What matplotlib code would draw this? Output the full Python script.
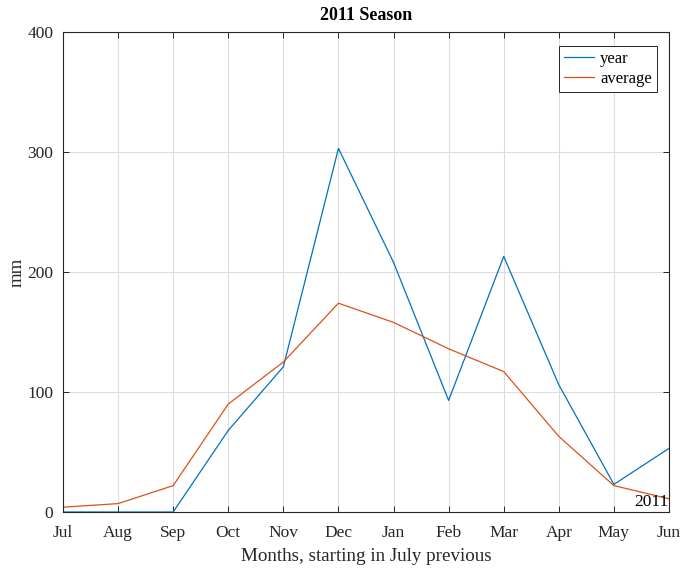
import matplotlib
matplotlib.use("Agg")
import matplotlib.pyplot as plt

months = ["Jul", "Aug", "Sep", "Oct", "Nov", "Dec", "Jan", "Feb", "Mar", "Apr", "May", "Jun"]
year_vals = [0, 0, 0, 68, 121, 303, 208, 93, 213, 106, 23, 53]
avg_vals = [4, 7, 22, 90, 125, 174, 158, 136, 117, 63, 22, 11]
yticks = [0, 100, 200, 300, 400]

plt.rcParams['font.family'] = ['Liberation Serif', 'DejaVu Serif']

fig = plt.figure(figsize=(6.83, 5.73), dpi=100)
ax = fig.add_axes([63/683, 1-512/573, (669-63)/683, (512-32)/573])

x = list(range(len(months)))
ax.plot(x, year_vals, color=(0, 0.447, 0.741), lw=0.9, label="year")
ax.plot(x, avg_vals, color=(0.85, 0.325, 0.098), lw=0.9, label="average")

ax.set_xlim(0, len(months)-1)
ax.set_ylim(0, 400)
ax.set_xticks(x)
ax.set_xticklabels(months, fontsize=12.5)
ax.set_yticks(yticks)
ax.set_yticklabels([str(v) for v in yticks], fontsize=12.5)
ax.tick_params(direction='in', top=True, right=True, length=4, width=0.7, colors='#262626', labelcolor='#262626')
ax.tick_params(axis='x', pad=9.5)
ax.tick_params(axis='y', pad=7)
ax.grid(True, color='#dcdcdc', lw=0.8)
ax.set_axisbelow(True)
for s in ax.spines.values():
    s.set_color('#262626')
    s.set_linewidth(0.8)

ax.set_xlabel("Months, starting in July previous", fontsize=13.7, color='#262626', labelpad=5)
ax.set_ylabel("mm", fontsize=13.5, color='#262626', labelpad=1)
ax.set_title("2011 Season", fontsize=13, fontweight='bold', color='#000000', pad=9)

ax.text(0.999, 0.004, "2011", transform=ax.transAxes, ha='right', va='bottom', fontsize=12.5, color='#000000')

leg = ax.legend(loc='upper right', fontsize=12, frameon=True, fancybox=False,
                edgecolor='#262626', framealpha=1, handlelength=1.8, handletextpad=0.4,
                borderpad=0.3, labelspacing=0.25, borderaxespad=0,
                bbox_to_anchor=(1-12/606, 1-14/480))
leg.get_frame().set_linewidth(0.7)

fig.savefig("out.png", dpi=100)
